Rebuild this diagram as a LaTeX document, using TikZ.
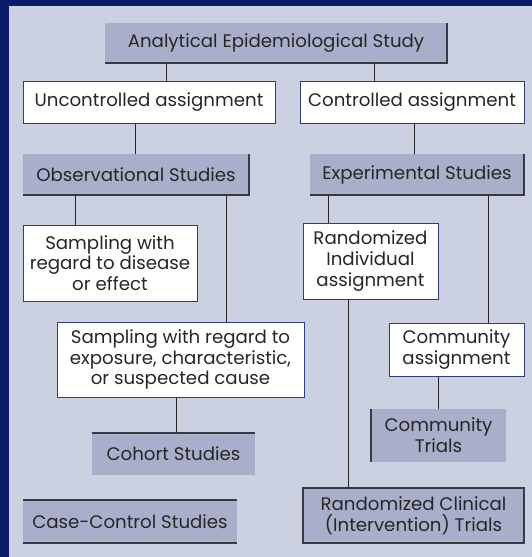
\documentclass[tikz,border=0pt]{standalone}
\usepackage{fontspec}
\setmainfont{Poppins}
\usepackage{tikz}
\usetikzlibrary{positioning,calc}
\definecolor{framecolor}{HTML}{0B1A6B}
\definecolor{panelcolor}{HTML}{CBD1E1}
\definecolor{studycolor}{HTML}{A9AFCB}
\definecolor{rimcolor}{HTML}{3A3A44}
\definecolor{assigncolor}{HTML}{2E3C82}
\newcommand{\chartfont}{\fontsize{18.2}{20.8}\selectfont}

\begin{document}
\begin{tikzpicture}[
  x=1pt, y=-1pt,
  study/.style={
    fill=studycolor, inner sep=0pt, align=center,
    font=\chartfont, text=black!85
  },
  assign/.style={
    draw=assigncolor, line width=1pt, fill=white, inner sep=0pt,
    align=center, font=\chartfont, text=black!85
  },
  link/.style={draw=black!85, line width=1.3pt},
  rim/.style={draw=rimcolor, line width=1.5pt}
]

  % ── Frame ──
  \fill[framecolor] (0,0) rectangle (532,557);
  \fill[panelcolor] (9,6) rectangle (532,557);

  % ── Top level ──
  \node[study, minimum width=342pt, minimum height=40pt] (top) at (276,43)
    {Analytical Epidemiological Study};
  \node[assign, minimum width=252pt, minimum height=42pt] (unc) at (149,102)
    {Uncontrolled assignment};
  \node[assign, minimum width=224pt, minimum height=42pt] (ctrl) at (412,102)
    {Controlled assignment};

  % ── Study types ──
  \node[study, minimum width=226pt, minimum height=41pt] (obs) at (136,174.5)
    {Observational Studies};
  \node[study, minimum width=214pt, minimum height=41pt] (exp) at (417,174.5)
    {Experimental Studies};

  % ── Observational branch ──
  \node[assign, minimum width=174pt, minimum height=76pt] (dis) at (110,263)
    {Sampling with\\regard to disease\\or effect};
  \node[assign, minimum width=247pt, minimum height=75pt] (expo) at (180.5,359.5)
    {Sampling with regard to\\exposure, characteristic,\\or suspected cause};
  \node[study, minimum width=163pt, minimum height=42pt] (coh) at (173.5,454)
    {Cohort Studies};
  \node[study, minimum width=214pt, minimum height=43pt] (cc) at (130,521.5)
    {Case-Control Studies};

  % ── Experimental branch ──
  \node[assign, minimum width=135pt, minimum height=76pt] (rind) at (370.5,261)
    {Randomized\\Individual\\assignment};
  \node[assign, minimum width=135pt, minimum height=53pt] (cass) at (456.5,349.5)
    {Community\\assignment};
  \node[study, minimum width=135pt, minimum height=53pt] (ctr) at (438.5,435.5)
    {Community\\Trials};
  \node[study, minimum width=221pt, minimum height=55pt] (rct) at (413.5,515.5)
    {Randomized Clinical\\(Intervention) Trials};

  % ── Box rims ──
  \draw[rim] (top.north east) -- (top.south east) -- (top.south west);
  \draw[rim] (obs.north east) -- (obs.south east) -- (obs.south west);
  \draw[rim] (exp.north east) -- (exp.south east) -- (exp.south west);
  \draw[rim] (coh.north west) -- (coh.north east);
  \draw[rim] (cc.north west) -- (cc.north east);
  \draw[rim] (cc.south west) -- (cc.south east);
  \draw[rim] (ctr.north west) -- (ctr.south west);
  \draw[rim] (rct.north west) rectangle (rct.south east);

  % ── Links ──
  \draw[link] ([xshift=62pt]top.south west) -- ([xshift=62pt]top.south west |- unc.north);
  \draw[link] ([xshift=270pt]top.south west) -- ([xshift=270pt]top.south west |- ctrl.north);
  \draw[link] ([xshift=113pt]unc.south west) -- ([xshift=113pt]unc.south west |- obs.north);
  \draw[link] ([xshift=115pt]ctrl.south west) -- ([xshift=115pt]ctrl.south west |- exp.north);
  \draw[link] ([xshift=53pt]obs.south west) -- ([xshift=53pt]obs.south west |- dis.north);
  \draw[link] ([xshift=204pt]obs.south west) -- ([xshift=204pt]obs.south west |- expo.north);
  \draw[link] ([xshift=120pt]expo.south west) -- ([xshift=120pt]expo.south west |- coh.north);
  \draw[link] ([xshift=19pt]exp.south west) -- ([xshift=19pt]exp.south west |- rind.north);
  \draw[link] ([xshift=179pt]exp.south west) -- ([xshift=179pt]exp.south west |- cass.north);
  \draw[link] ([xshift=46pt]rind.south west) -- ([xshift=46pt]rind.south west |- rct.north);
  \draw[link] ([xshift=50pt]cass.south west) -- ([xshift=50pt]cass.south west |- ctr.north);

\end{tikzpicture}
\end{document}
